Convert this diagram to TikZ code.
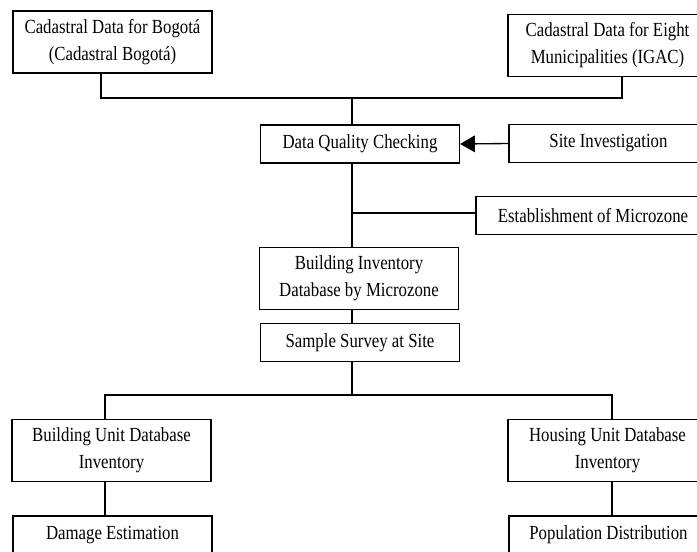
\documentclass[tikz,border=0pt]{standalone}
\usepackage{fontspec}
\setmainfont[FakeStretch=0.84]{Liberation Serif}
\usetikzlibrary{arrows.meta}

\begin{document}
\begin{tikzpicture}[x=0.75pt,y=-0.75pt,
  blk/.style={draw,line width=1pt,inner sep=0pt,align=center,
    minimum width=149.25pt,minimum height=28.5pt,
    font=\fontsize{15}{20.25}\selectfont},
  blk2/.style={blk,minimum height=46.5pt},
  lnk/.style={line width=1pt}]
\useasboundingbox (0,0) rectangle (697,551);

\node[blk2] (bog) at (112.5,42) {Cadastral Data for Bogotá\\(Cadastral Bogotá)};
\node[blk2] (igac) at (607.5,45.5) {Cadastral Data for Eight\\Municipalities (IGAC)};
\node[blk] (dq) at (360,144) {Data Quality Checking};
\node[blk] (site) at (608.5,143.5) {Site Investigation};
\node[blk,minimum width=175.5pt] (micro) at (593,215.5) {Establishment of Microzone};
\node[blk2] (bidb) at (359,278.5) {Building Inventory\\Database by Microzone};
\node[blk] (survey) at (360,342.5) {Sample Survey at Site};

\node[blk2] (budb) at (111.5,450.5) {Building Unit Database\\Inventory};
\node[blk2] (hudb) at (607.5,450.5) {Housing Unit Database\\Inventory};
\node[blk] (dmg) at (112.5,535) {Damage Estimation};
\node[blk] (pop) at (608.5,535) {Population Distribution};

\coordinate (a1) at (101,98);
\coordinate (a2) at (352,98);
\coordinate (a3) at (622,98);
\coordinate (b1) at (352,213);
\coordinate (c1) at (105,395);
\coordinate (c2) at (352,395);
\coordinate (c3) at (612,395);

\draw[lnk] (bog.south -| a1) -- (a1) -- (a3) -- (igac.south -| a3);
\draw[lnk] (a2) -- (dq.north -| a2);
\draw[lnk,-{Triangle[length=11pt,width=12.5pt]}] (site.west) -- (dq.east);
\draw[lnk] (dq.south -| b1) -- (bidb.north -| b1);
\draw[lnk] (b1) -- (b1 -| micro.west);
\draw[lnk] (bidb.south -| c2) -- (survey.north -| c2);
\draw[lnk] (survey.south -| c2) -- (c2);
\draw[lnk] (budb.north -| c1) -- (c1) -- (c3) -- (hudb.north -| c3);
\draw[lnk] (budb.south -| c1) -- (dmg.north -| c1);
\draw[lnk] (hudb.south -| c3) -- (pop.north -| c3);
\end{tikzpicture}
\end{document}
